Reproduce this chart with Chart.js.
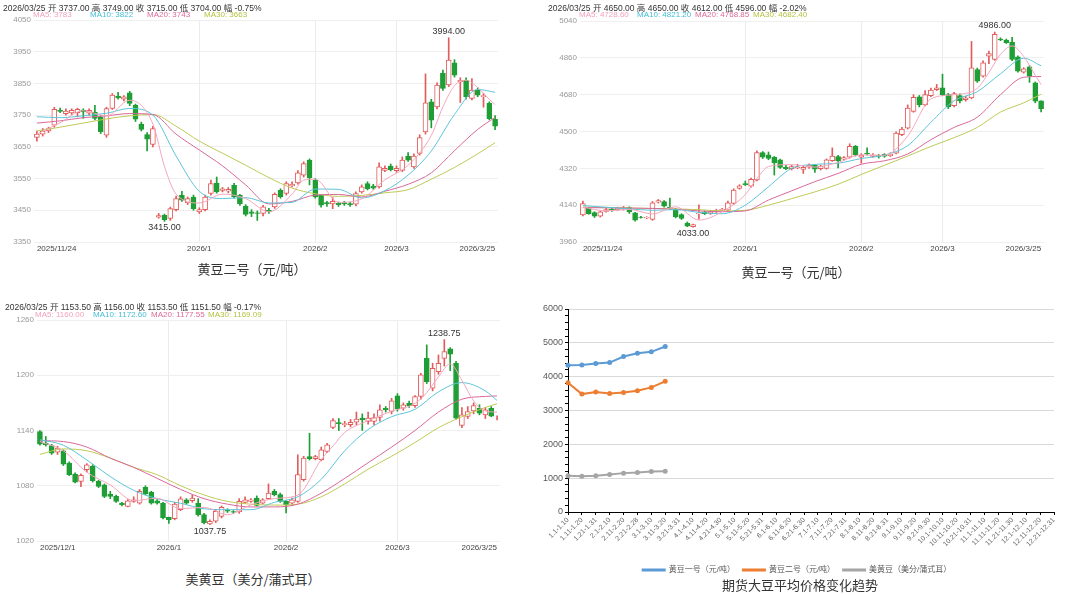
<!DOCTYPE html>
<html>
<head>
<meta charset="utf-8">
<title>大豆期货</title>
<script src="https://cdn.jsdelivr.net/npm/chart.js@4.4.1/dist/chart.umd.min.js"></script>
<style>
  body { margin:0; background:#fff; font-family:"Liberation Sans","Noto Sans CJK SC",sans-serif; }
  #page { position:relative; width:1080px; height:595px; overflow:hidden; }
  canvas { position:absolute; }
  .hd { position:absolute; font-size:8.5px; color:#333; white-space:nowrap; }
  .ma { position:absolute; font-size:8px; white-space:nowrap; }
  .ttl { position:absolute; width:300px; margin-left:-150px; text-align:center; font-size:13px; color:#333; font-family:"Noto Sans CJK SC",sans-serif; }
</style>
</head>
<body>
<div id="page">
  <canvas id="cNo2" width="540" height="262" style="left:0;top:0"></canvas>
  <canvas id="cNo1" width="540" height="262" style="left:540px;top:0"></canvas>
  <canvas id="cUS" width="540" height="262" style="left:0;top:298px"></canvas>
  <canvas id="cAvg" width="540" height="294" style="left:540px;top:290px"></canvas>

  <div class="hd" style="left:3px;top:1px">2026/03/25 开 3737.00 高 3749.00 收 3715.00 低 3704.00 幅 -0.75%</div>
  <div class="ma" style="left:33px;top:10px;color:#f3a3bb">MA5: 3783</div>
  <div class="ma" style="left:90px;top:10px;color:#45bdd4">MA10: 3822</div>
  <div class="ma" style="left:147px;top:10px;color:#de6a98">MA20: 3743</div>
  <div class="ma" style="left:204px;top:10px;color:#b5c240">MA30: 3663</div>

  <div class="hd" style="left:548px;top:1px">2026/03/25 开 4650.00 高 4650.00 收 4612.00 低 4596.00 幅 -2.02%</div>
  <div class="ma" style="left:579px;top:10px;color:#f3a3bb">MA5: 4728.60</div>
  <div class="ma" style="left:637px;top:10px;color:#45bdd4">MA10: 4821.20</div>
  <div class="ma" style="left:695px;top:10px;color:#de6a98">MA20: 4768.85</div>
  <div class="ma" style="left:753px;top:10px;color:#b5c240">MA30: 4682.40</div>

  <div class="hd" style="left:5px;top:300px">2026/03/25 开 1153.50 高 1156.00 收 1153.50 低 1151.50 幅 -0.17%</div>
  <div class="ma" style="left:35px;top:310px;color:#f3a3bb">MA5: 1160.00</div>
  <div class="ma" style="left:93px;top:310px;color:#45bdd4">MA10: 1172.60</div>
  <div class="ma" style="left:151px;top:310px;color:#de6a98">MA20: 1177.55</div>
  <div class="ma" style="left:208px;top:310px;color:#b5c240">MA30: 1169.09</div>

  <div class="ttl" style="left:252px;top:259px">黄豆二号（元/吨）</div>
  <div class="ttl" style="left:796px;top:262px">黄豆一号（元/吨）</div>
  <div class="ttl" style="left:253px;top:569px">美黄豆（美分/蒲式耳）</div>
  <div class="ttl" style="left:800px;top:575px">期货大豆平均价格变化趋势</div>
</div>
<script>
// ---- 黄豆二号 daily candles 2025/11/24 - 2026/3/25
const openNo2 = [3680,3690,3700,3718,3765,3755,3757,3758,3766,3756,
  3760,3745,3687,3771,3810,3800,3820,3782,3722,3689,
  3658,3428,3434,3424,3452,3497,3473,3492,3445,3452,
  3503,3536,3513,3510,3529,3497,3463,3445,3442,3440,
  3450,3461,3513,3503,3527,3536,3561,3608,3545,3497,
  3474,3470,3472,3474,3471,3469,3508,3534,3526,3524,
  3576,3589,3575,3576,3621,3587,3629,3697,3792,3776,
  3882,3845,3915,3855,3860,3803,3829,3808,3787,3737];
const highNo2 = [3700,3708,3712,3775,3772,3770,3770,3772,3770,3770,
  3781,3750,3775,3818,3822,3812,3825,3785,3728,3695,
  3715,3440,3438,3460,3495,3510,3492,3498,3458,3498,
  3545,3555,3522,3522,3535,3500,3468,3452,3448,3466,
  3456,3505,3518,3540,3540,3575,3603,3612,3550,3500,
  3478,3490,3476,3478,3476,3508,3530,3540,3532,3600,
  3590,3596,3590,3618,3632,3628,3688,3880,3800,3852,
  3892,3994,3925,3868,3868,3865,3836,3818,3792,3749];
const lowNo2 = [3668,3684,3695,3712,3758,3750,3752,3745,3740,3750,
  3735,3692,3680,3768,3800,3795,3780,3730,3700,3637,
  3650,3425,3415,3418,3448,3478,3468,3450,3440,3448,
  3498,3504,3508,3505,3488,3465,3432,3430,3418,3432,
  3440,3456,3488,3498,3524,3532,3555,3530,3488,3460,
  3462,3455,3462,3465,3462,3464,3504,3514,3516,3520,
  3572,3574,3570,3572,3604,3582,3624,3690,3710,3770,
  3828,3840,3870,3790,3800,3798,3808,3775,3735,3704];
const closeNo2 = [3690,3700,3708,3768,3762,3763,3765,3768,3760,3765,
  3740,3698,3771,3813,3804,3808,3787,3737,3705,3674,
  3708,3433,3420,3455,3487,3482,3487,3455,3452,3492,
  3534,3508,3518,3516,3492,3471,3437,3440,3440,3461,
  3445,3500,3492,3534,3532,3568,3597,3553,3492,3466,
  3470,3478,3468,3470,3467,3503,3524,3518,3520,3587,
  3582,3578,3582,3608,3608,3621,3679,3789,3734,3845,
  3834,3924,3876,3860,3808,3829,3813,3812,3739,3715];
const ma5IdxNo2 = [0,4,8,12,16,20,22,24,28,32,36,40,44,46,48,52,56,60,64,68,70,72,74,76,78,79];
const ma5No2 = [3690,3726,3764,3747,3797,3722,3588,3501,3473,3501,3487,3445,3501,3545,3548,3475,3486,3546,3592,3686,3776,3843,3860,3837,3800,3783];
const maIdxNo2 = [0,4,8,12,16,20,24,28,32,36,40,44,48,52,56,60,64,68,72,76,79];
const ma10No2 = [3745,3742,3748,3756,3771,3750,3621,3510,3487,3490,3473,3475,3517,3516,3489,3512,3561,3637,3752,3831,3822];
const ma20No2 = [3725,3732,3742,3748,3755,3752,3690,3640,3590,3530,3470,3478,3498,3500,3492,3510,3532,3568,3638,3705,3743];
const ma30No2 = [3700,3712,3725,3738,3748,3752,3715,3668,3630,3592,3553,3520,3502,3494,3497,3505,3515,3548,3585,3628,3663];

// ---- 黄豆一号
const openNo1 = [4092,4124,4104,4086,4110,4120,4118,4120,4128,4102,
  4082,4078,4070,4155,4157,4130,4119,4094,4053,4035,
  4098,4106,4100,4107,4114,4115,4148,4222,4245,4233,
  4263,4397,4386,4374,4361,4326,4318,4322,4315,4326,
  4335,4318,4320,4358,4378,4365,4374,4427,4375,4395,
  4378,4382,4388,4382,4394,4484,4516,4598,4669,4630,
  4675,4705,4713,4680,4626,4676,4655,4664,4803,4770,
  4868,4852,4952,4947,4937,4865,4790,4816,4738,4650];
const highNo1 = [4160,4130,4108,4112,4124,4124,4130,4134,4132,4105,
  4086,4084,4158,4168,4162,4175,4124,4098,4058,4048,
  4142,4112,4115,4120,4124,4160,4220,4240,4258,4272,
  4405,4402,4400,4378,4365,4335,4335,4340,4330,4342,
  4340,4336,4366,4420,4384,4378,4440,4432,4392,4420,
  4392,4388,4392,4396,4498,4520,4630,4680,4676,4700,
  4712,4730,4780,4686,4692,4684,4672,4940,4810,4845,
  4893,4986,4958,4952,4960,4870,4812,4822,4742,4650];
const lowNo1 = [4088,4095,4080,4082,4106,4110,4114,4116,4100,4062,
  4076,4074,4066,4150,4130,4120,4078,4070,4035,4033,
  4072,4094,4095,4104,4110,4110,4144,4218,4236,4228,
  4258,4368,4362,4287,4320,4314,4312,4318,4295,4320,
  4300,4312,4316,4354,4322,4360,4370,4380,4345,4384,
  4374,4370,4374,4378,4390,4480,4512,4594,4620,4625,
  4670,4700,4675,4612,4620,4640,4648,4660,4740,4765,
  4832,4848,4944,4930,4846,4790,4785,4740,4640,4596];
const closeNo1 = [4148,4099,4086,4107,4118,4115,4125,4128,4107,4067,
  4080,4080,4152,4162,4135,4128,4083,4075,4037,4045,
  4100,4098,4108,4114,4120,4152,4214,4235,4240,4266,
  4397,4374,4369,4348,4325,4318,4328,4326,4325,4335,
  4316,4330,4361,4380,4358,4372,4427,4386,4385,4390,
  4385,4378,4380,4390,4492,4512,4614,4667,4630,4680,
  4702,4713,4680,4620,4685,4649,4665,4811,4746,4835,
  4881,4975,4948,4934,4852,4795,4806,4770,4648,4612];
const ma5IdxNo1 = [0,4,8,12,16,20,24,28,30,32,36,40,44,48,52,56,60,64,68,70,72,74,76,78,79];
const ma5No1 = [4130,4112,4119,4097,4132,4067,4108,4192,4270,4329,4338,4326,4349,4386,4384,4478,4659,4680,4711,4788,4877,4918,4867,4774,4729];
const maIdxNo1 = [0,4,8,12,16,20,24,28,32,36,40,44,48,52,56,60,64,68,72,76,79];
const ma10No1 = [4138,4130,4122,4115,4118,4105,4098,4140,4230,4320,4339,4345,4368,4385,4431,4545,4650,4695,4782,4858,4821];
const ma20No1 = [4128,4127,4126,4124,4120,4112,4108,4112,4165,4210,4255,4295,4340,4357,4390,4460,4520,4570,4680,4765,4769];
const ma30No1 = [4130,4128,4126,4124,4122,4118,4112,4115,4140,4172,4205,4242,4290,4335,4380,4427,4470,4520,4595,4640,4682];

// ---- 美黄豆 2025/12/1 - 2026/3/25
const openUS = [1138.9,1126.3,1123.7,1116.5,1118,1104.6,1092.7,1084.7,1097.4,1101,
  1084.7,1081.1,1071,1068.5,1061.2,1057.6,1063,1061.2,1078.2,1073.1,
  1063.7,1061.2,1045.7,1044.2,1054,1064.8,1063.7,1061.2,1048.6,1038.5,
  1041.4,1046.8,1053.5,1052,1051.5,1062,1063,1066.6,1061.2,1065.9,
  1073.9,1070.3,1063,1061.2,1063,1086.5,1111.8,1109.3,1108.2,1117.2,
  1143.3,1148.5,1146.4,1146.2,1149,1153.4,1149.8,1149.8,1154.1,1164.2,
  1160.6,1177.6,1164.2,1169.6,1167.1,1176.9,1218.4,1185.9,1204,1218.4,
  1228.6,1213,1145.4,1155.2,1161.3,1164.2,1157,1164.2,1153.5];
const highUS = [1140,1133.5,1125,1123,1119,1106,1094,1093,1104,1103,
  1086,1082,1074,1070,1062,1065,1068,1076,1080,1074,
  1065,1062,1046,1062,1068,1066,1070,1066,1050,1043,
  1054,1058,1055,1053,1066,1068,1066,1069,1066,1082,
  1076,1072,1064,1067,1113.6,1112,1137,1113,1122,1126,
  1153,1153,1150,1152,1160,1158,1160,1158,1168,1166,
  1175,1180,1170,1172,1178,1202,1233,1213,1222,1238.75,
  1230,1215,1165,1166,1170,1168,1165,1166,1156];
const lowUS = [1124,1123,1114,1114,1102,1091,1083,1079,1095,1084,
  1078,1067,1066,1062,1058,1057,1062,1060,1070,1060,
  1060,1044,1039,1043,1053,1060,1062,1047,1038.5,1037.75,
  1040,1045,1051,1050,1050,1061,1062,1058,1060,1065,
  1069,1062,1050.4,1060,1062,1085,1108,1108,1107,1116,
  1142,1140,1144,1144,1146,1140,1147,1146,1150,1160,
  1158,1161,1162,1165,1165,1174,1191,1183,1201,1210,
  1205,1152,1143,1153,1158,1157,1153,1155,1151.5];
const closeUS = [1125.2,1124.5,1115.4,1120.9,1103.5,1092,1084,1091.2,1102.8,1085.4,
  1079.3,1068.5,1068.5,1063,1059.4,1063.7,1064.8,1073.9,1071,1061.2,
  1061.2,1045,1043.2,1060.1,1065.9,1061.2,1066.6,1048.6,1040,1041.4,
  1052.2,1056.5,1052.5,1051.2,1063,1064.8,1064.8,1058.7,1064.8,1072.1,
  1070.3,1063,1059.4,1064.8,1092,1110,1109.3,1111.8,1119,1124.5,
  1150.8,1147.5,1147.4,1149,1152.3,1151.6,1153.4,1154.1,1162.4,1162.4,
  1172.2,1163.5,1167.8,1167.1,1176.9,1200.4,1193.1,1207.6,1213,1225.7,
  1222.8,1153.4,1157,1160.6,1167.1,1158.8,1162.4,1155.5,1153.5];
const ma5IdxUS = [0,4,8,12,16,20,24,28,32,36,40,44,48,50,52,56,60,64,66,68,70,72,74,76,78];
const ma5US = [1128,1117.9,1094.7,1080.9,1063.9,1066.4,1055.1,1056.5,1048.5,1059.3,1066.1,1069.9,1108.4,1123.1,1137.8,1150.7,1160.9,1169.5,1181.1,1198.2,1212.4,1194.4,1172.2,1161.2,1160];
const maIdxUS = [0,4,8,12,16,20,24,28,32,36,40,44,48,52,56,60,64,68,72,76,78];
const ma10US = [1130,1124,1108,1090,1075,1066,1061,1055,1054,1054,1062,1068,1087,1118,1141,1155,1163,1182,1192,1183,1172.6];
const ma20US = [1129,1128,1122,1110,1100,1088,1076,1066,1060,1057,1057,1060,1072,1088,1105,1122,1140,1160,1174,1177,1177.55];
const ma30US = [1114,1120,1118,1110,1100,1092,1080,1070,1063,1060,1059,1060,1068,1082,1098,1112,1127,1143,1155,1165,1169.09];

// x tick labels (index in the candle list -> text)
const tickPosCN = [0, 28, 48, 62, 79];
const tickTextCN = ['2025/11/24', '2026/1', '2026/2', '2026/3', '2026/3/25'];
const tickPosUS = [0, 22, 42, 61, 78];
const tickTextUS = ['2025/12/1', '2026/1', '2026/2', '2026/3', '2026/3/25'];

// ---- 10-day averages
const decadeLabels = ['1.1-1.10','1.11-1.20','1.21-1.31','2.1-2.10','2.11-2.20','2.21-2.28',
  '3.1-3.10','3.11-3.20','3.21-3.31','4.1-4.10','4.11-4.20','4.21-4.30',
  '5.1-5.10','5.11-5.20','5.21-5.31','6.1-6.10','6.11-6.20','6.21-6.30',
  '7.1-7.10','7.11-7.20','7.21-7.31','8.1-8.10','8.11-8.20','8.21-8.31',
  '9.1-9.10','9.11-9.20','9.21-9.30','10.1-10.10','10.11-10.20','10.21-10.31',
  '11.1-11.10','11.11-11.20','11.21-11.30','12.1-12.10','12.11-12.20','12.21-12.31'];
const avgNo1 = [4337, 4345, 4386, 4416, 4594, 4693, 4733, 4891];
const avgNo2 = [3822, 3485, 3545, 3505, 3535, 3584, 3683, 3861];
const avgUS = [1069, 1059, 1069, 1109, 1149, 1168, 1198, 1208];

Chart.defaults.font.family = '"Liberation Sans","Noto Sans CJK SC",sans-serif';
Chart.defaults.animation = false;

const RED = '#e25c5c';
const GREEN = '#1e9e34';

// prints the highest high / lowest low next to the candle
const extremeLabels = {
  id: 'extremeLabels',
  afterDatasetsDraw(chart, args, opts) {
    const ctx = chart.ctx, x = chart.scales.x, y = chart.scales.y;
    const hi = opts.highs, lo = opts.lows;
    const iH = hi.indexOf(Math.max(...hi));
    const iL = lo.indexOf(Math.min(...lo));
    ctx.save();
    ctx.font = '9px "Liberation Sans"';
    ctx.fillStyle = '#333';
    ctx.textAlign = 'center';
    ctx.textBaseline = 'bottom';
    ctx.fillText(hi[iH].toFixed(2), x.getPixelForValue(iH), y.getPixelForValue(hi[iH]) - 2);
    ctx.textBaseline = 'top';
    ctx.fillText(lo[iL].toFixed(2), x.getPixelForValue(iL), y.getPixelForValue(lo[iL]) + 2);
    ctx.restore();
  }
};

function maLine(label, xs, ys, color) {
  return {
    type: 'line', label: label,
    data: xs.map((x, j) => ({x: x, y: ys[j]})),
    borderColor: color, borderWidth: 1, pointRadius: 0,
    cubicInterpolationMode: 'monotone', order: 0
  };
}

function candleChart(id, o, h, l, c, ma5Idx, ma5, maIdx, ma10, ma20, ma30, yMin, yMax, step, tickPos, tickText, area) {
  const canvas = document.getElementById(id);
  const idx = o.map((v, i) => i);
  const up = o.map((v, i) => c[i] >= v);
  const midTicks = tickPos.slice(1, -1);

  new Chart(canvas, {
    type: 'bar',
    data: {
      labels: idx,
      datasets: [
        maLine('MA5', ma5Idx, ma5, '#f4a6bd'),
        maLine('MA10', maIdx, ma10, '#5cc5da'),
        maLine('MA20', maIdx, ma20, '#d9699a'),
        maLine('MA30', maIdx, ma30, '#bfca55'),
        {
          label: 'body', data: o.map((v, i) => [v, c[i]]),
          backgroundColor: up.map(u => u ? '#fff' : GREEN),
          borderColor: up.map(u => u ? RED : GREEN),
          borderWidth: 1, borderSkipped: false,
          barThickness: 5, grouped: false, order: 1
        },
        {
          label: 'wick', data: l.map((v, i) => [v, h[i]]),
          backgroundColor: up.map(u => u ? RED : GREEN),
          barThickness: 1, grouped: false, order: 2
        }
      ]
    },
    options: {
      responsive: false,
      layout: {padding: {left: 0, top: area.top, right: canvas.width - area.right, bottom: canvas.height - area.bottom - 16}},
      scales: {
        x: {
          grid: {offset: false, drawTicks: false, color: ctx => midTicks.includes(ctx.index) ? '#ebebeb' : 'rgba(0,0,0,0)'},
          border: {display: false},
          ticks: {
            autoSkip: false, maxRotation: 0, align: 'inner', padding: 2,
            font: {size: 8}, color: '#444',
            callback: (v, i) => { const k = tickPos.indexOf(i); return k >= 0 ? tickText[k] : ''; }
          },
          afterFit: s => { s.height = 16; }
        },
        y: {
          min: yMin, max: yMax,
          grid: {drawTicks: false, color: '#efefef'},
          border: {display: false},
          ticks: {stepSize: step, padding: 3, font: {size: 8}, color: '#999', callback: v => String(v)},
          afterFit: s => { s.width = area.left; }
        }
      },
      plugins: {
        legend: {display: false},
        tooltip: {enabled: false},
        extremeLabels: {highs: h, lows: l}
      }
    },
    plugins: [extremeLabels]
  });
}

candleChart('cNo2', openNo2, highNo2, lowNo2, closeNo2, ma5IdxNo2, ma5No2, maIdxNo2, ma10No2, ma20No2, ma30No2,
  3350, 4050, 100, tickPosCN, tickTextCN, {left: 34, right: 498, top: 20, bottom: 242});
candleChart('cNo1', openNo1, highNo1, lowNo1, closeNo1, ma5IdxNo1, ma5No1, maIdxNo1, ma10No1, ma20No1, ma30No1,
  3960, 5040, 180, tickPosCN, tickTextCN, {left: 40, right: 504, top: 21, bottom: 242});
candleChart('cUS', openUS, highUS, lowUS, closeUS, ma5IdxUS, ma5US, maIdxUS, ma10US, ma20US, ma30US,
  1020, 1260, 60, tickPosUS, tickTextUS, {left: 37, right: 500, top: 22, bottom: 243});

// ---- average price trend
function avgSet(label, data, color) {
  return {label: label, data: data, borderColor: color, backgroundColor: color,
    pointBackgroundColor: color, borderWidth: 2, pointRadius: 2.5, pointBorderWidth: 0};
}

new Chart(document.getElementById('cAvg'), {
  type: 'line',
  data: {
    labels: decadeLabels,
    datasets: [
      avgSet('黄豆一号（元/吨）', avgNo1, '#5b9bd5'),
      avgSet('黄豆二号（元/吨）', avgNo2, '#ed7d31'),
      avgSet('美黄豆（美分/蒲式耳）', avgUS, '#a5a5a5')
    ]
  },
  options: {
    responsive: false,
    layout: {padding: {left: 0, top: 19, right: 26, bottom: 0}},
    scales: {
      x: {
        offset: false,
        grid: {drawOnChartArea: false, tickLength: 3, color: '#000', offset: false},
        border: {color: '#000'},
        ticks: {autoSkip: false, minRotation: 45, maxRotation: 45, padding: 1, font: {size: 7}, color: '#666'},
        afterFit: s => { s.height = 46; }
      },
      y: {
        min: 0, max: 6000,
        grid: {
          color: ctx => ctx.tick && ctx.tick.value % 1000 === 0 ? '#d9d9d9' : 'rgba(0,0,0,0)',
          tickColor: '#000', tickLength: 3
        },
        border: {color: '#000'},
        ticks: {stepSize: 200, maxTicksLimit: 40, autoSkip: false, padding: 2, font: {size: 9}, color: '#595959',
          callback: v => v % 1000 === 0 ? v : ''},
        afterFit: s => { s.width = 28; }
      }
    },
    plugins: {
      legend: {position: 'bottom', labels: {boxWidth: 22, boxHeight: 1, padding: 8, font: {size: 8}, color: '#595959'}},
      tooltip: {enabled: false}
    }
  }
});
</script>
</body>
</html>
